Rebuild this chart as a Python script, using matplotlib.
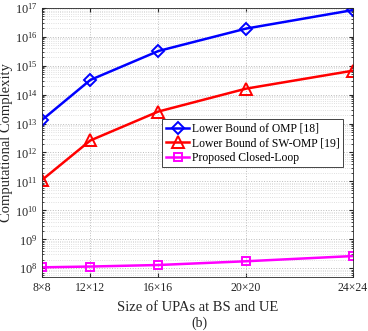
import matplotlib
matplotlib.use('Agg')
import matplotlib.pyplot as plt
from matplotlib.ticker import LogLocator, NullFormatter

plt.rcParams['font.family'] = ['Liberation Serif', 'DejaVu Serif']
plt.rcParams['mathtext.fontset'] = 'stix'

# UPA sizes (N x N), x axis is the antenna count N^2
upa_n = [8, 12, 16, 20, 24]
tick_labels = ['8×8', '12×12', '16×16', '20×20', '24×24']

omp = [1.3e13, 3.2e14, 3.2e15, 1.9e16, 8.3e16]
sw_omp = [1.1e11, 2.6e12, 2.6e13, 1.6e14, 6.7e14]
closed_loop = [1.08e8, 1.15e8, 1.3e8, 1.75e8, 2.65e8]

x = [n * n for n in upa_n]

fig = plt.figure(figsize=(3.68, 3.31), dpi=100)
ax = fig.add_axes([0.1133, 0.1631, 0.846, 0.8136])

ax.plot(x, omp, color='#0000FF', linewidth=1.8, marker='D', markersize=6,
        markerfacecolor='none', markeredgewidth=1.4, label='Lower Bound of OMP [18]')
ax.plot(x, sw_omp, color='#FF0000', linewidth=1.8, marker='^', markersize=8,
        markerfacecolor='none', markeredgewidth=1.4, label='Lower Bound of SW-OMP [19]')
ax.plot(x, closed_loop, color='#FF00FF', linewidth=1.8, marker='s', markersize=6,
        markerfacecolor='none', markeredgewidth=1.4, label='Proposed Closed-Loop')

ax.set_yscale('log')
ax.set_xlim(x[0], x[-1])
ax.set_ylim(5e7, 1e17)
ax.set_xticks(x)
ax.set_xticklabels(tick_labels)
ax.yaxis.set_major_locator(LogLocator(base=10, numticks=20))
ax.yaxis.set_minor_locator(LogLocator(base=10, subs=range(2, 10), numticks=20))
ax.yaxis.set_minor_formatter(NullFormatter())

ax.grid(which='major', linestyle=':', color='#BBBBBB', linewidth=0.7)
ax.grid(which='minor', axis='y', linestyle=':', color='#D5D5D5', linewidth=0.6)
ax.set_axisbelow(True)

ax.tick_params(which='both', direction='in', top=True, right=True, colors='#262626')
ax.tick_params(axis='x', labelsize=8.5)
ax.tick_params(axis='y', labelsize=8.8, pad=3)
ax.tick_params(which='major', length=3)
ax.tick_params(which='minor', length=1.5)
for s in ax.spines.values():
    s.set_color('#262626')
    s.set_linewidth(0.6)

ax.set_ylabel('Computational Complexity', fontsize=10.5, color='#262626', va='center')
ax.yaxis.set_label_coords(-0.112, 0.5)
ax.set_xlabel('Size of UPAs at BS and UE', fontsize=10.5, color='#262626', labelpad=5)
fig.text(0.542, 0.024, '(b)', ha='center', va='center', fontsize=10, color='#262626')

leg = ax.legend(loc='upper left', bbox_to_anchor=(0.388, 0.585), fontsize=8.4,
                frameon=True, fancybox=False, edgecolor='#262626', framealpha=1,
                handlelength=2.0, handletextpad=0.2, borderpad=0.3, labelspacing=0.2,
                borderaxespad=0)
leg.get_frame().set_linewidth(0.6)

fig.savefig('out.png', dpi=100)
